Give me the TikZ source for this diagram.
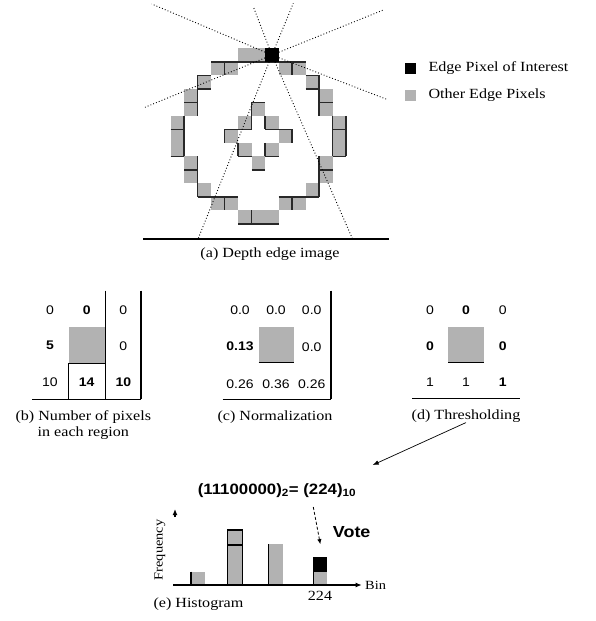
\documentclass[tikz,border=0pt]{standalone}
\usepackage{fontspec}
\setmainfont{Liberation Serif}[FakeStretch=1.15]
\setsansfont{Liberation Sans}[FakeStretch=1.12]
\usetikzlibrary{arrows.meta}
\definecolor{pixgray}{RGB}{178,178,178}
\definecolor{edgedark}{RGB}{40,40,40}

\begin{document}
\begin{tikzpicture}[x=1pt, y=-1pt,
        cell/.style={fill=pixgray},
        pixedge/.style={draw=edgedark, line width=1.5pt},
        poipix/.style={rectangle, fill=black, minimum size=13.5pt, inner sep=0pt},
        ray/.style={line width=0.9pt, dash pattern=on 0.9pt off 2.1pt},
        legbox/.style={rectangle, minimum size=11pt, inner sep=0pt},
        legtext/.style={font=\fontsize{14}{16}\selectfont, anchor=west, inner sep=0pt},
        caption/.style={font=\fontsize{14}{16}\selectfont, align=center, inner sep=0pt},
        num/.style={font=\sffamily\fontsize{12.5}{14}\selectfont, inner sep=0pt},
        bnum/.style={font=\sffamily\bfseries\fontsize{12.5}{14}\selectfont, inner sep=0pt},
        gridline/.style={line width=1.3pt},
        arrow/.style={line width=0.7pt, -{Latex[length=6pt,width=4.5pt]}},
        votearrow/.style={line width=0.8pt, dash pattern=on 3pt off 2pt, -{Latex[length=5pt,width=4.5pt]}},
        axisarrow/.style={line width=1.2pt, -{Latex[length=6pt,width=5pt]}},
        axlabel/.style={font=\fontsize{12.5}{14}\selectfont, inner sep=0pt}
    ]
    \useasboundingbox (0,0) rectangle (596,621);

    \begin{scope}[shift={(170.7pt,-48.3pt)}, x=13.5pt, y=-13.5pt]
        \foreach \c/\r in {5/0,6/0,3/1,4/1,8/1,9/1,2/2,10/2,1/3,11/3,1/4,11/4,0/5,12/5,0/6,12/6,0/7,12/7,
                1/8,11/8,1/9,11/9,2/10,10/10,3/11,4/11,8/11,9/11,5/12,6/12,7/12,
                6/4,5/5,7/5,4/6,8/6,5/7,7/7,6/8}
            \fill[cell] (\c,\r) rectangle ++(1,1);
        \foreach \xa/\ya/\xb/\yb in {3/1/10/1,4/1/4/2,9/1/9/2,
                2/2/3/2,2/2/2/5,2/3/3/3,1/4/2/4,10/2/11/2,11/2/11/5,10/3/11/3,11/4/12/4,
                1/5/1/8,0/6/1/6,0/8/1/8,12/5/12/8,13/5/13/8,12/6/13/6,12/8/13/8,
                2/8/2/11,1/9/2/9,2/11/5/11,4/11/4/12,11/8/11/11,11/9/12/9,8/11/11/11,9/11/9/12,
                6/12/6/13,5/13/8/13,
                6/4/7/4,6/4/6/6,7/5/7/6,4/6/6/6,7/6/9/6,4/6/4/7,9/6/9/7,
                5/7/5/8,5/8/6/8,7/7/7/8,7/8/8/8,6/9/7/9}
            \draw[pixedge] (\xa,\ya) -- (\xb,\yb);
        \node[poipix] (poi) at (7.5,0.5) {};
    \end{scope}

    \draw[ray] (poi) -- (151.7,4);
    \draw[ray] (poi) -- (386.7,99.3);
    \draw[ray] (poi) -- (145,107.3);
    \draw[ray] (poi) -- (383.3,10);
    \draw[ray] (poi) -- (253.3,6.7);
    \draw[ray] (poi) -- (352.7,239.3);
    \draw[ray] (poi) -- (293.3,3.3);
    \draw[ray] (poi) -- (198.3,238.3);

    \draw[gridline] (143.3,239) -- (389.3,239);
    \node[caption] (depthcap) at (270,254) {(a) Depth edge image};

    \node[legbox, fill=black] (legpoi) at (410.5,68.3) {};
    \node[legtext] (legpoitext) at (428.3,68.3) {Edge Pixel of Interest};
    \node[legbox, fill=pixgray] (legother) at (410.5,95.3) {};
    \node[legtext] (legothertext) at (428.3,95.3) {Other Edge Pixels};

    \fill[cell] (68.7,326.7) rectangle (105.3,363.3);
    \draw[gridline] (105.3,290.7) -- (105.3,399.3);
    \draw[gridline] (141,290.7) -- (141,399.3);
    \draw[gridline] (32.3,399.3) -- (141,399.3);
    \draw[gridline] (68.7,363.3) -- (68.7,399.3);
    \draw[gridline] (68.7,363.3) -- (105.3,363.3);
    \node[num] (b11) at (50,310) {0};
    \node[bnum] (b12) at (86.7,310) {0};
    \node[num] (b13) at (123.3,310) {0};
    \node[bnum] (b21) at (50,345.7) {5};
    \node[num] (b23) at (123.3,345.7) {0};
    \node[num] (b31) at (50,381.7) {10};
    \node[bnum] (b32) at (86.7,381.7) {14};
    \node[bnum] (b33) at (123.3,381.7) {10};
    \node[caption] (countcap) at (83.3,425) {(b) Number of pixels\\in each region};

    \fill[cell] (258.7,326.7) rectangle (294.3,362.7);
    \draw[gridline] (258.7,362.7) -- (294.3,362.7);
    \draw[gridline] (331,290.7) -- (331,399.3);
    \draw[gridline] (222.7,399.3) -- (331,399.3);
    \node[num] (c11) at (240,310) {0.0};
    \node[num] (c12) at (276,310) {0.0};
    \node[num] (c13) at (311.7,310) {0.0};
    \node[bnum] (c21) at (240,346.7) {0.13};
    \node[num] (c23) at (311.7,346.7) {0.0};
    \node[num] (c31) at (240,384.3) {0.26};
    \node[num] (c32) at (276,384.3) {0.36};
    \node[num] (c33) at (311.7,384.3) {0.26};
    \node[caption] (normcap) at (275,416.7) {(c) Normalization};

    \fill[cell] (448.3,326.7) rectangle (484.3,362.7);
    \draw[gridline] (448.3,362.7) -- (484.3,362.7);
    \draw[gridline] (412.3,398.3) -- (520,398.3);
    \node[num] (d11) at (430,310) {0};
    \node[bnum] (d12) at (466,310) {0};
    \node[num] (d13) at (502.7,310) {0};
    \node[bnum] (d21) at (430,345.7) {0};
    \node[bnum] (d23) at (502.7,345.7) {0};
    \node[num] (d31) at (430,381.7) {1};
    \node[num] (d32) at (466,381.7) {1};
    \node[bnum] (d33) at (502.7,381.7) {1};
    \node[caption] (thrcap) at (466,416) {(d) Thresholding};

    \node[font=\sffamily\bfseries\fontsize{15}{17}\selectfont, inner sep=0pt] (code) at (277,490.7)
        {(11100000)\textsubscript{2}= (224)\textsubscript{10}};
    \coordinate (arrend) at (372.7,465);
    \draw[arrow] (thrcap.south) -- (arrend);

    \fill[cell] (191,571.7) rectangle (205,585);
    \draw[gridline] (191,571.7) -- (191,585);
    \fill[cell] (227.3,530) rectangle (242.3,585);
    \draw[gridline] (227.3,530) rectangle (242.3,585);
    \draw[gridline] (227.3,545) -- (242.3,545);
    \fill[cell] (268.3,544.3) rectangle (282.7,585);
    \draw[gridline] (268.3,544.3) -- (268.3,585);
    \fill[cell] (313.3,571.7) rectangle (327.3,585);
    \node[fill=black, minimum width=14pt, minimum height=14.4pt, inner sep=0pt] (votebin) at (320.3,564.5) {};
    \draw[gridline] (313.3,557.3) -- (313.3,585);

    \coordinate (votefrom) at (313.3,507);
    \draw[votearrow] (votefrom) -- ([yshift=13pt]votebin.north);
    \node[font=\sffamily\bfseries\fontsize{16}{18}\selectfont, inner sep=0pt] (vote) at (351.7,532) {Vote};

    \coordinate (origin) at (173.3,585);
    \coordinate (xend) at (361.7,585);
    \draw[axisarrow] (origin) -- (xend);
    \node[axlabel, anchor=west] (binlabel) at (365,585) {Bin};
    \coordinate (ytipfrom) at (175,517);
    \coordinate (ytip) at (175,509);
    \draw[axisarrow] (ytipfrom) -- (ytip);
    \node[axlabel, rotate=90] (freq) at (160,550) {Frequency};
    \node[caption] (bin224) at (320,596) {224};
    \node[caption, anchor=west] (histcap) at (153.3,604) {(e) Histogram};
\end{tikzpicture}
\end{document}
